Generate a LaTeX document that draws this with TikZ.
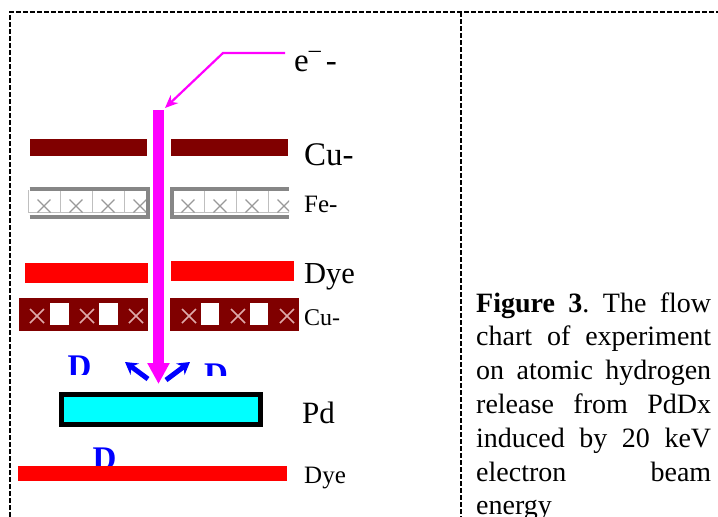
\documentclass[tikz,border=0pt]{standalone}
\usepackage{fontspec}
\setmainfont{Liberation Serif}
\usetikzlibrary{arrows.meta}
\definecolor{darkcu}{RGB}{128,0,0}
\definecolor{xpink}{RGB}{222,170,170}
\definecolor{beamcol}{RGB}{255,0,255}
\definecolor{pdcol}{RGB}{0,255,255}
\frenchspacing
\tikzset{
 x=1pt,y=-1pt,
 frameline/.style={black,line width=1.6pt,dash pattern=on 5pt off 2pt},
 lab/.style={anchor=base west,inner sep=0pt,text=black},
 captext/.style={anchor=base west,inner sep=0pt,font=\fontsize{28}{28}\selectfont},
 dtext/.style={anchor=base west,inner sep=0pt,text=blue,font=\fontsize{33}{33}\selectfont\bfseries},
 cubar/.style={fill=darkcu,draw=none},
 dyebar/.style={fill=red,draw=none},
 feedge/.style={draw=gray!95,line width=4pt},
 fecell/.style={draw=gray!50,line width=.9pt},
 fex/.style={draw=gray!80,line width=1.3pt},
 cux/.style={draw=xpink,line width=1.6pt},
 thinarrow/.style={draw=beamcol,line width=2.2pt,-{Stealth[length=13pt,width=11pt]}},
 beam/.style={draw=beamcol,line width=10.5pt,-{Triangle[length=21pt,width=21pt]}},
 blueout/.style={draw=blue,line width=5pt,-{Stealth[length=12pt,width=14pt]}},
}
\newcommand{\crossat}[4]{\draw[#1] (#2-#4,#3-#4) -- (#2+#4,#3+#4) (#2-#4,#3+#4) -- (#2+#4,#3-#4);}
\begin{document}
\begin{tikzpicture}
\useasboundingbox (0,0) rectangle (718,517);
\clip (0,0) rectangle (718,517);
% frame
\draw[frameline] (10,517) -- (10,12) -- (718,12);
\draw[frameline] (461,12) -- (461,517);
% top Cu bars
\fill[cubar] (29.5,139) rectangle (147,155.5);
\fill[cubar] (171,139) rectangle (288,155.5);
% Fe left
\foreach \cx in {28,60,92,124} {\draw[fecell] (\cx,190) -- (\cx,212);}
\draw[fecell] (28,212) -- (147,212);
\foreach \cx in {44,76,108,140} {\crossat{fex}{\cx}{206}{6.5}}
\draw[feedge] (29.5,189) -- (147.5,189);
\draw[feedge] (29.5,216.5) -- (147.5,216.5);
\draw[feedge] (147.5,187) -- (147.5,218.5);
% Fe right
\begin{scope}
\clip (165,180) rectangle (289,225);
\foreach \cx in {204,236,268} {\draw[fecell] (\cx,190) -- (\cx,212);}
\draw[fecell] (172,212) -- (289,212);
\foreach \cx in {188,220,252,284} {\crossat{fex}{\cx}{206}{6.5}}
\end{scope}
\draw[feedge] (171,189) -- (288.5,189);
\draw[feedge] (171,216.5) -- (288.5,216.5);
\draw[feedge] (171.5,187) -- (171.5,218.5);
% Dye bars
\fill[dyebar] (25,263) rectangle (148,283);
\fill[dyebar] (171,261) rectangle (294,281);
% lower Cu left
\fill[cubar] (19,298) rectangle (148,330.5);
\foreach \sx in {50,99} {\fill[white] (\sx,303) rectangle (\sx+18.5,325);}
\foreach \cx in {37,87,136} {\crossat{cux}{\cx}{316}{7}}
% lower Cu right
\fill[cubar] (170,297.5) rectangle (299,330.5);
\foreach \sx in {200.5,249.5} {\fill[white] (\sx,303) rectangle (\sx+18.5,325);}
\foreach \cx in {189,238,287} {\crossat{cux}{\cx}{316}{7}}
% D letters, cut off as printed
\begin{scope}
\clip (60,340) rectangle (100,374.5);
\node[dtext] (dleft) at (67.5,377.5) {D};
\end{scope}
\begin{scope}
\clip (200,340) rectangle (235,375);
\node[dtext] (dright) at (204,385) {D};
\end{scope}
\begin{scope}
\clip (85,440) rectangle (125,466);
\node[dtext] (dbottom) at (92.5,469.5) {D};
\end{scope}
% Pd
\node[draw=black,line width=5pt,fill=pdcol,minimum width=198.5pt,minimum height=30pt,inner sep=0pt,anchor=north west] (pd) at (59,391.5) {};
\fill[dyebar] (18,466) rectangle (287,481);
% labels
\node[lab,font=\fontsize{33}{33}\selectfont] (lcu) at (304,165) {Cu-};
\node[lab,font=\fontsize{25}{25}\selectfont] (lfe) at (304,212) {Fe-};
\node[lab,font=\fontsize{30.5}{30.5}\selectfont] (ldye) at (304,283) {Dye};
\node[lab,font=\fontsize{24}{24}\selectfont] (lcub) at (304,325) {Cu-};
\node[lab,font=\fontsize{31}{31}\selectfont] (lpd) at (302,423) {Pd};
\node[lab,font=\fontsize{25}{25}\selectfont] (ldyeb) at (304,483) {Dye};
\node[lab,font=\fontsize{33}{33}\selectfont] (le) at (294,71) {e\raisebox{14pt}{\fontsize{24}{24}\selectfont–}\kern5pt -};
% arrows
\coordinate (ebend) at (223,53);
\coordinate (estart) at (285,53);
\coordinate (etip) at (165,108);
\coordinate (btop) at (158.5,110);
\coordinate (btip) at (158.5,384);
\draw[thinarrow] (estart) -- (ebend) -- (etip);
\draw[beam] (btop) -- (btip);
\coordinate (al) at (148,379);
\coordinate (alt) at (125,362);
\coordinate (ar) at (166,380);
\coordinate (art) at (190,362);
\draw[blueout] (al) -- (alt);
\draw[blueout] (ar) -- (art);
% caption
\node[captext] (c1) at (476,312) {\makebox[235pt][s]{\textbf{Figure 3}. The flow}};
\node[captext] (c2) at (476,345) {\makebox[235pt][s]{chart of experiment}};
\node[captext] (c3) at (476,379) {\makebox[235pt][s]{on atomic hydrogen}};
\node[captext] (c4) at (476,413) {\makebox[235pt][s]{release from PdDx}};
\node[captext] (c5) at (476,447) {\makebox[235pt][s]{induced by 20 keV}};
\node[captext] (c6) at (476,481) {\makebox[235pt][s]{electron\hfill beam}};
\node[captext] (c7) at (476,514.5) {energy};
\end{tikzpicture}
\end{document}
